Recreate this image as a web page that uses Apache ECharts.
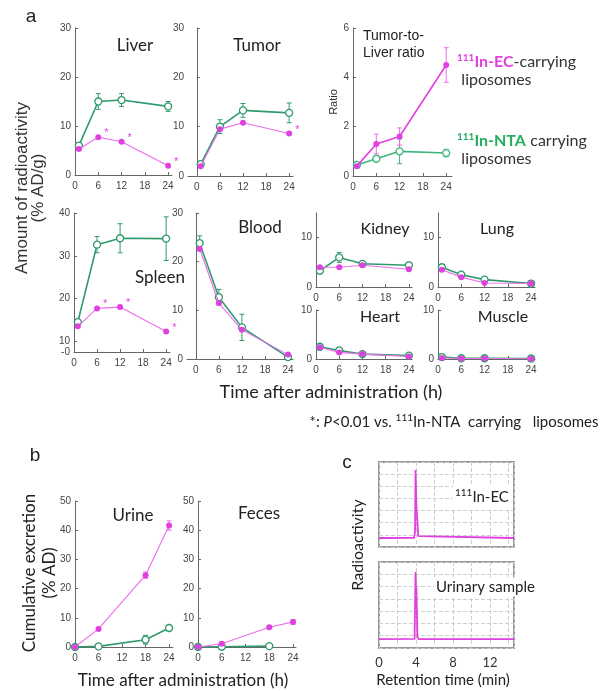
<!DOCTYPE html>
<html>
<head>
<meta charset="utf-8">
<script src="https://cdn.jsdelivr.net/npm/echarts@6.0.0/dist/echarts.min.js"></script>
<style>
html, body { margin: 0; padding: 0; background: #fff; }
#main { width: 611px; height: 691px; }
</style>
</head>
<body>
<div id="main"></div>
<script>
// colours
const GREEN = '#2f9a6c';
const GREEN_LIGHT = '#3db57c';
const PINK = '#ee6cee';
const PINK_DARK = '#e040e0';

// time points (h)
const organTimes = [1, 6, 12, 24];
const excretionTimes = [0, 6, 18, 24];
const fecesNtaTimes = [0, 6, 18];
const hourTicks = [0, 6, 12, 18, 24];

// panel a : biodistribution (%AD/g)
const liverNTA = [6.0, 15.0, 15.3, 14.0];
const liverNTAErr = [0.6, 1.6, 1.3, 1.0];
const liverEC = [5.3, 7.7, 6.8, 1.9];
const liverSig = [0, 1, 1, 1];

const tumorNTA = [2.4, 10.0, 13.3, 12.8];
const tumorNTAErr = [0.3, 1.4, 1.4, 2.0];
const tumorEC = [2.0, 9.5, 10.8, 8.6];
const tumorSig = [0, 0, 0, 1];

const ratioNTA = [0.45, 0.7, 1.0, 0.93];
const ratioNTAErr = [0.05, 0.05, 0.5, 0.15];
const ratioEC = [0.4, 1.3, 1.6, 4.5];
const ratioECErr = [0.05, 0.4, 0.35, 0.7];

const spleenNTA = [14.5, 32.6, 34.1, 34.0];
const spleenNTAErr = [0.5, 1.9, 3.4, 5.1];
const spleenEC = [13.5, 17.7, 18.0, 12.3];
const spleenSig = [0, 1, 1, 1];
const spleenTicks = [7.5, 10, 20, 30, 40]; // bottom tick is the broken-axis "-0"

const bloodNTA = [23.8, 12.7, 6.5, 0.4];
const bloodNTAErr = [1.5, 1.6, 2.7, 0.1];
const bloodEC = [22.6, 11.5, 6.0, 0.9];

const kidneyNTA = [3.3, 6.0, 4.7, 4.4];
const kidneyNTAErr = [0.4, 1.0, 0.3, 0.6];
const kidneyEC = [4.0, 4.0, 4.4, 3.6];

const lungNTA = [4.0, 2.5, 1.5, 0.7];
const lungNTAErr = [0.5, 0.3, 0.2, 0.1];
const lungEC = [3.5, 2.0, 0.8, 0.7];

const heartNTA = [2.5, 1.75, 1.0, 0.7];
const heartEC = [2.4, 1.35, 1.0, 0.5];

const muscleNTA = [0.4, 0.15, 0.15, 0.1];
const muscleEC = [0.2, 0.1, 0.1, 0.05];

// panel b : cumulative excretion (%AD)
const urineEC = [0, 6.2, 24.6, 41.6];
const urineECErr = [0, 0.3, 1.1, 1.6];
const urineNTA = [0, 0.2, 2.5, 6.5];
const urineNTAErr = [0, 0, 1.5, 0.5];
const fecesEC = [0, 1.1, 6.75, 8.6];
const fecesECErr = [0, 0, 0.4, 0.8];
const fecesNTA = [0, 0.1, 0.3];

// panel c : radio-HPLC traces
const ecTraceTime = [0, 3.8, 3.9, 3.95, 4.0, 4.05, 4.1, 4.2, 4.25, 4.4, 14.6];
const ecTraceSignal = [0.74, 0.76, 1.3, 6.34, 6.2, 3.3, 3.3, 3.2, 0.9, 0.74, 0.74];
const urineTraceTime = [0, 3.85, 3.95, 4.0, 4.05, 4.15, 4.3, 14.6];
const urineTraceSignal = [0.73, 0.75, 6.19, 5.0, 4.8, 0.9, 0.73, 0.73];
const chromTicks = [0, 4, 8, 12];

const grids = [], xAxes = [], yAxes = [], series = [];

function addPanel(p) {
  const i = grids.length;
  grids.push({ left: p.left, top: p.top, width: p.width, height: p.height, containLabel: false });
  xAxes.push({
    gridIndex: i, type: 'value', min: p.xmin, max: p.xmax,
    axisLine: { show: true, onZero: false, lineStyle: { color: '#666', width: 1 } },
    axisTick: { show: true, inside: true, length: 3, customValues: hourTicks, lineStyle: { color: '#666' } },
    axisLabel: { customValues: hourTicks, fontSize: 10, color: '#444', margin: 6 },
    splitLine: { show: false }
  });
  const y = {
    gridIndex: i, type: 'value', min: p.ymin, max: p.ymax,
    axisLine: { show: true, lineStyle: { color: '#666', width: 1 } },
    axisTick: { show: true, inside: true, length: 3, customValues: p.yticks, lineStyle: { color: '#666' } },
    axisLabel: { customValues: p.yticks, fontSize: 10, color: '#444', margin: 4 },
    splitLine: { show: false }
  };
  if (p.fmt) {
    y.axisLabel.formatter = p.fmt;
    y.axisLabel.lineHeight = 8;
    y.axisLabel.hideOverlap = false;
  }
  if (p.name) {
    y.name = p.name;
    y.nameLocation = 'middle';
    y.nameGap = p.nameGap;
    y.nameTextStyle = { fontSize: 11, color: '#333' };
  }
  yAxes.push(y);
  return i;
}

function pts(times, vals) {
  return vals.map((v, k) => [times[k], v]);
}

function lineSeries(idx, times, vals, kind, opts) {
  opts = opts || {};
  const green = kind === 'nta';
  const col = green ? (opts.color || GREEN) : (opts.color || PINK);
  const data = vals.map((v, k) => {
    const item = { value: [times[k], v] };
    if (opts.sig && opts.sig[k]) {
      item.label = { show: true, formatter: '*', position: 'right', distance: 3, offset: [0, -4], color: PINK_DARK, fontSize: 11 };
    }
    return item;
  });
  return {
    type: 'line', xAxisIndex: idx, yAxisIndex: idx, data: data,
    symbol: 'circle', symbolSize: green ? 7 : 6,
    lineStyle: { color: col, width: green ? 1.6 : (opts.width || 1.1) },
    itemStyle: green ? { color: '#fff', borderColor: col, borderWidth: 1.3 } : { color: opts.mark || PINK_DARK, borderWidth: 0 },
    label: { show: false },
    z: green ? 3 : 4, animation: false, silent: true
  };
}

function errSeries(idx, times, vals, errs, color) {
  const data = [];
  vals.forEach((v, k) => { if (errs[k] > 0) data.push([times[k], v - errs[k], v + errs[k]]); });
  return {
    type: 'custom', xAxisIndex: idx, yAxisIndex: idx, data: data,
    encode: { x: 0, y: [1, 2] },
    renderItem: function (params, api) {
      const lo = api.coord([api.value(0), api.value(1)]);
      const hi = api.coord([api.value(0), api.value(2)]);
      const w = 2.5;
      const st = { stroke: color, lineWidth: 1 };
      return { type: 'group', children: [
        { type: 'line', shape: { x1: lo[0], y1: lo[1], x2: hi[0], y2: hi[1] }, style: st },
        { type: 'line', shape: { x1: lo[0] - w, y1: lo[1], x2: lo[0] + w, y2: lo[1] }, style: st },
        { type: 'line', shape: { x1: hi[0] - w, y1: hi[1], x2: hi[0] + w, y2: hi[1] }, style: st }
      ] };
    },
    z: 2, silent: true, animation: false
  };
}

function organ(rect, nta, ntaErr, ec, sig, times) {
  const t = times || organTimes;
  const idx = addPanel(rect);
  if (ntaErr) series.push(errSeries(idx, t, nta, ntaErr, GREEN));
  series.push(lineSeries(idx, t, nta, 'nta'));
  series.push(lineSeries(idx, t, ec, 'ec', { sig: sig }));
  return idx;
}

// ---- panel a ----
organ({ left: 75, top: 28, width: 97, height: 147, xmin: 0, xmax: 25, ymin: 0, ymax: 30, yticks: [0, 10, 20, 30] },
  liverNTA, liverNTAErr, liverEC, liverSig);
organ({ left: 188, top: 28, width: 105, height: 148, xmin: -2.3, xmax: 25, ymin: 0, ymax: 30, yticks: [0, 10, 20, 30] },
  tumorNTA, tumorNTAErr, tumorEC, tumorSig);

const ratioIdx = addPanel({ left: 353, top: 28, width: 99, height: 148, xmin: 0, xmax: 25.5, ymin: 0, ymax: 6, yticks: [0, 2, 4, 6], name: 'Ratio', nameGap: 14 });
series.push(errSeries(ratioIdx, organTimes, ratioNTA, ratioNTAErr, GREEN_LIGHT));
series.push(errSeries(ratioIdx, organTimes, ratioEC, ratioECErr, PINK));
series.push(lineSeries(ratioIdx, organTimes, ratioNTA, 'nta', { color: GREEN_LIGHT }));
series.push(lineSeries(ratioIdx, organTimes, ratioEC, 'ec', { color: PINK_DARK, width: 1.6, mark: PINK_DARK }));

organ({ left: 74, top: 213, width: 96, height: 139, xmin: 0, xmax: 25, ymin: 7.5, ymax: 40, yticks: spleenTicks,
        fmt: v => (v < 9 ? '-0' : String(v)) },
  spleenNTA, spleenNTAErr, spleenEC, spleenSig);
organ({ left: 187, top: 213, width: 106, height: 146, xmin: -2.3, xmax: 25.3, ymin: 0, ymax: 30, yticks: [0, 10, 20, 30] },
  bloodNTA, bloodNTAErr, bloodEC);
organ({ left: 316, top: 213, width: 96, height: 74, xmin: 0, xmax: 24.8, ymin: 0, ymax: 15, yticks: [0, 10] },
  kidneyNTA, kidneyNTAErr, kidneyEC);
organ({ left: 438, top: 213, width: 97, height: 74, xmin: 0, xmax: 25, ymin: 0, ymax: 15, yticks: [0, 10] },
  lungNTA, lungNTAErr, lungEC);
organ({ left: 316, top: 310, width: 96, height: 49, xmin: 0, xmax: 24.8, ymin: 0, ymax: 10, yticks: [0, 10] },
  heartNTA, null, heartEC);
organ({ left: 438, top: 310, width: 97, height: 49, xmin: 0, xmax: 25, ymin: 0, ymax: 10, yticks: [0, 10] },
  muscleNTA, null, muscleEC);

// ---- panel b ----
const urineIdx = addPanel({ left: 75, top: 501, width: 98, height: 146, xmin: 0, xmax: 25, ymin: 0, ymax: 50, yticks: [0, 10, 20, 30, 40, 50] });
series.push(errSeries(urineIdx, excretionTimes, urineNTA, urineNTAErr, GREEN));
series.push(errSeries(urineIdx, excretionTimes, urineEC, urineECErr, PINK));
series.push(lineSeries(urineIdx, excretionTimes, urineNTA, 'nta'));
series.push(lineSeries(urineIdx, excretionTimes, urineEC, 'ec'));

const fecesIdx = addPanel({ left: 198, top: 501, width: 98, height: 146, xmin: 0, xmax: 24.75, ymin: 0, ymax: 50, yticks: [0, 10, 20, 30, 40, 50] });
series.push(errSeries(fecesIdx, excretionTimes, fecesEC, fecesECErr, PINK));
series.push(lineSeries(fecesIdx, fecesNtaTimes, fecesNTA, 'nta'));
series.push(lineSeries(fecesIdx, excretionTimes, fecesEC, 'ec'));

// ---- panel c ----
function chromPanel(top, height, showLabels) {
  const i = grids.length;
  grids.push({ left: 379, top: top, width: 135, height: height, show: true, borderColor: '#999', borderWidth: 2 });
  xAxes.push({
    gridIndex: i, type: 'value', min: 0, max: 14.6, interval: 2,
    axisLine: { show: false }, axisTick: { show: false },
    axisLabel: { show: showLabels, customValues: chromTicks, fontSize: 13, color: '#333', fontFamily: 'Lato', margin: 8 },
    splitLine: { show: true, lineStyle: { type: 'dashed', color: '#cfcfcf', width: 1 } }
  });
  yAxes.push({
    gridIndex: i, type: 'value', min: 0, max: 7, interval: 1,
    axisLine: { show: false }, axisTick: { show: false }, axisLabel: { show: false },
    splitLine: { show: true, lineStyle: { type: 'dashed', color: '#cfcfcf', width: 1 } }
  });
  return i;
}
const topC = chromPanel(462, 85, false);
const botC = chromPanel(562, 86, true);
[[topC, ecTraceTime, ecTraceSignal], [botC, urineTraceTime, urineTraceSignal]].forEach(function (d) {
  series.push({
    type: 'line', xAxisIndex: d[0], yAxisIndex: d[0], data: pts(d[1], d[2]),
    symbol: 'none', lineStyle: { color: PINK_DARK, width: 1.8 }, animation: false, silent: true
  });
});

// ---- free text ----
function txt(x, y, text, o) {
  o = o || {};
  const style = Object.assign({
    text: text, fill: '#222', fontSize: 17, fontFamily: 'Lato',
    align: 'center', verticalAlign: 'middle', textAlign: 'center', textVerticalAlign: 'middle'
  }, o.style || {});
  const el = { type: 'text', x: x, y: y, style: style, z: 100, silent: true };
  if (o.rotation) el.rotation = o.rotation;
  return el;
}
const left = { align: 'left', textAlign: 'left' };
const sup = { fontSize: 10, verticalAlign: 'top', lineHeight: 18 };

const graphics = [
  txt(31, 17, 'a', { style: { fontSize: 19, fontFamily: 'Liberation Sans' } }),
  txt(35, 456, 'b', { style: { fontSize: 19, fontFamily: 'Liberation Sans' } }),
  txt(347, 463, 'c', { style: { fontSize: 19, fontFamily: 'Liberation Sans' } }),
  txt(30, 188, 'Amount of radioactivity\n(% AD/g)', { rotation: Math.PI / 2, style: { fontSize: 17, lineHeight: 16, fontFamily: 'Liberation Sans', fill: '#333' } }),
  txt(135, 46, 'Liver'),
  txt(257, 46, 'Tumor'),
  txt(363, 45, 'Tumor-to-\nLiver ratio', { style: Object.assign({ fontSize: 14, lineHeight: 17, fontFamily: 'Liberation Sans' }, left) }),
  txt(457, 71, '{s|111}{b|In-EC}{n|-carrying}\n {n|liposomes}', { style: Object.assign({
    rich: {
      s: Object.assign({ fill: PINK_DARK, fontWeight: 'bold', fontFamily: 'Lato' }, sup),
      b: { fill: PINK_DARK, fontWeight: 'bold', fontSize: 16, fontFamily: 'Lato', lineHeight: 18 },
      n: { fill: '#333', fontSize: 16, fontFamily: 'Lato', lineHeight: 18 }
    } }, left) }),
  txt(457, 150, '{s|111}{b|In-NTA} {n|carrying}\n {n|liposomes}', { style: Object.assign({
    rich: {
      s: Object.assign({ fill: '#22b060', fontWeight: 'bold', fontFamily: 'Lato' }, sup),
      b: { fill: '#22b060', fontWeight: 'bold', fontSize: 16, fontFamily: 'Lato', lineHeight: 18 },
      n: { fill: '#333', fontSize: 16, fontFamily: 'Lato', lineHeight: 18 }
    } }, left) }),
  txt(160, 278, 'Spleen'),
  txt(260, 228, 'Blood'),
  txt(385, 229, 'Kidney', { style: { fontSize: 16 } }),
  txt(497, 229, 'Lung', { style: { fontSize: 16 } }),
  txt(380, 317, 'Heart', { style: { fontSize: 16 } }),
  txt(503, 317, 'Muscle', { style: { fontSize: 16 } }),
  txt(331, 392, 'Time after administration (h)', { style: { fontSize: 18 } }),
  txt(454, 422, '{n|*: }{i|P}{n|<0.01 vs. }{s|111}{n|In-NTA  carrying   liposomes}', { style: {
    rich: {
      n: { fontSize: 15, fontFamily: 'Lato', fill: '#222', lineHeight: 18 },
      i: { fontSize: 15, fontFamily: 'Lato', fontStyle: 'italic', fill: '#222', lineHeight: 18 },
      s: { fontSize: 10, fontFamily: 'Lato', fill: '#222', verticalAlign: 'top', lineHeight: 18 }
    } } }),
  txt(40, 573, 'Cumulative excretion\n(% AD)', { rotation: Math.PI / 2, style: { fontSize: 17, lineHeight: 20 } }),
  txt(133, 516, 'Urine'),
  txt(259, 514, 'Feces'),
  txt(183, 681, 'Time after administration (h)', { style: { fontSize: 17 } }),
  txt(358, 545, 'Radioactivity', { rotation: Math.PI / 2, style: { fontSize: 16 } }),
  txt(453, 497, '{s|111}{n|In-EC}', { style: Object.assign({ backgroundColor: '#fff', padding: [2, 4, 2, 2],
    rich: { s: { fontSize: 10, fontFamily: 'Lato', fill: '#222', verticalAlign: 'top', lineHeight: 18 },
            n: { fontSize: 15, fontFamily: 'Lato', fill: '#222', lineHeight: 18 } } }, left) }),
  txt(434, 587, 'Urinary sample', { style: Object.assign({ fontSize: 15, backgroundColor: '#fff', padding: [2, 2, 2, 2] }, left) }),
  txt(443, 680, 'Retention time (min)', { style: { fontSize: 15 } })
];

const chart = echarts.init(document.getElementById('main'));
chart.setOption({
  backgroundColor: '#fff',
  animation: false,
  textStyle: { fontFamily: 'Liberation Sans' },
  grid: grids,
  xAxis: xAxes,
  yAxis: yAxes,
  series: series,
  graphic: graphics
});
</script>
</body>
</html>
